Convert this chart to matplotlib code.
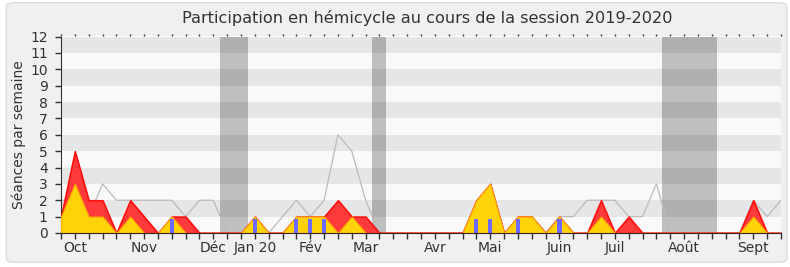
# Participation en hémicycle - session 2019-2020 (une valeur par semaine)
import matplotlib
matplotlib.use("Agg")
import matplotlib.pyplot as plt
from matplotlib.patches import FancyBboxPatch
import numpy as np

# ============================================================
# DONNÉES (semaine 0 = fin septembre 2019)
# ============================================================
presences = [1, 5, 2, 2, 0, 2, 1, 0, 1, 1, 0, 0, 0, 0, 1, 0, 0, 1, 1, 1,
             2, 1, 1, 0, 0, 0, 0, 0, 0, 0, 2, 3, 0, 1, 1, 0, 1, 0, 0, 2,
             0, 1, 0, 0, 0, 0, 0, 0, 0, 0, 2, 0, 0]
interventions = [1, 3, 1, 1, 0, 1, 0, 0, 1, 0, 0, 0, 0, 0, 1, 0, 0, 1, 1, 1,
                 0, 1, 0, 0, 0, 0, 0, 0, 0, 0, 2, 3, 0, 1, 1, 0, 1, 0, 0, 1,
                 0, 0, 0, 0, 0, 0, 0, 0, 0, 0, 1, 0, 0]
mediane = [2, 2, 1, 3, 2, 2, 2, 2, 2, 1, 2, 2, 0, 0, 0, 0, 1, 2, 1, 2,
           6, 5, 2, 0, 0, 0, 0, 0, 0, 0, 0, 0, 0, 0, 0, 0, 1, 1, 2, 2,
           2, 1, 1, 3, 0, 0, 0, 0, 0, 0, 2, 1, 2]
questions_semaines = [8, 14, 17, 18, 19, 30, 31, 33, 36]
questions = [1, 1, 1, 1, 1, 1, 1, 1, 1]

vacances = [(11.5, 13.5), (22.45, 23.45), (43.4, 47.4)]

mois = ["Oct", "Nov", "Déc", "Jan 20", "Fév", "Mar", "Avr", "Mai",
        "Juin", "Juil", "Août", "Sept"]
mois_semaines = [1, 6, 11, 14, 18, 22, 27, 31, 36, 40, 45, 50]

semaines = np.arange(len(presences))

# ============================================================
# FIGURE
# ============================================================
fig = plt.figure(figsize=(7.9, 2.67), dpi=100)
fig.patch.set_facecolor("white")
fond = FancyBboxPatch((0.008, 0.018), 0.988, 0.972,
                      boxstyle="round,pad=0,rounding_size=0.012",
                      transform=fig.transFigure, facecolor="#f0f0f0",
                      edgecolor="#dcdcdc", linewidth=1, zorder=-1)
fig.patches.append(fond)

ax = fig.add_axes([61 / 790, 1 - 233 / 267, 720 / 790, 196.5 / 267])
ax.set_zorder(1)
ax.set_facecolor("#f9f9f9")

# bandes horizontales
for k in range(1, 12, 2):
    ax.axhspan(k, k + 1, color="#e6e6e6", zorder=0, lw=0)

# vacances parlementaires
for debut, fin in vacances:
    ax.axvspan(debut, fin, color="black", alpha=0.23, lw=0, zorder=1)

# médiane
ax.plot(semaines, mediane, color="#bbbbbb", lw=0.9, zorder=2)

# présences / interventions
ax.fill_between(semaines, presences, color="#ff3a3a", edgecolor="#ff1010",
                lw=1.2, zorder=3)
ax.fill_between(semaines, interventions, color="#ffd20a", edgecolor="#ffb000",
                lw=0.8, zorder=4)

# questions orales (barres étroites)
ax.bar(questions_semaines, np.array(questions) * 0.88, width=0.3,
       color="#6b6bff", zorder=5)

ax.set_xlim(0, 52)
ax.set_ylim(0, 12)

ax.set_yticks(range(0, 13))
ax.set_xticks(semaines)
labels = [""] * len(semaines)
for m, s in zip(mois, mois_semaines):
    labels[s] = m
ax.set_xticklabels(labels)

ax.tick_params(axis="both", colors="#333333", labelsize=10, length=4,
               width=1, direction="out")
ax.tick_params(axis="x", pad=1.5)
ax.tick_params(axis="y", pad=5.5)

top = ax.secondary_xaxis("top")
top.set_xticks(semaines)
top.set_xticklabels([])
top.tick_params(length=1.5, width=1, color="#333333", direction="out")
top.spines["top"].set_visible(False)

for side in ["top", "right"]:
    ax.spines[side].set_visible(False)
ax.spines["left"].set_color("#333333")
ax.spines["bottom"].set_color("#3a2222")
ax.spines["bottom"].set_zorder(6)

ax.set_ylabel("Séances par semaine", fontsize=10, color="#333333", labelpad=3)
fig.text(427 / 790, 1 - 18 / 267,
         "Participation en hémicycle au cours de la session 2019-2020",
         ha="center", va="center", fontsize=11.6, color="#333333")

plt.savefig("out.png", dpi=100)
